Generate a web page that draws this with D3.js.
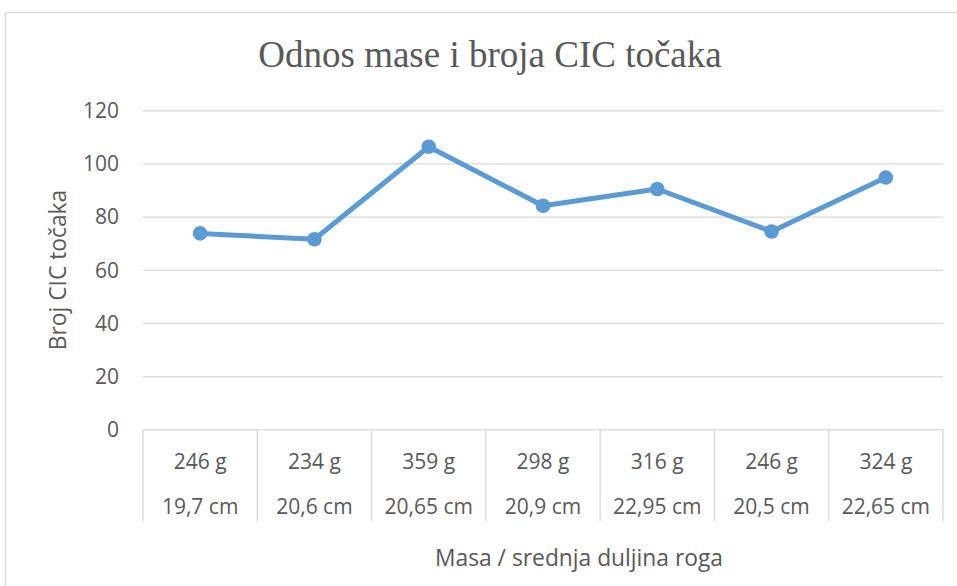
<!DOCTYPE html>
<html>
<head>
<meta charset="utf-8">
<script src="https://cdn.jsdelivr.net/npm/d3@7"></script>
<style>
  html, body { margin: 0; padding: 0; background: #fff; }
  svg { display: block; }
  text { font-family: "Open Sans", sans-serif; fill: #595959; }
</style>
</head>
<body>
<svg id="chart" width="957" height="586"></svg>
<script>
const massLabels = ["246 g", "234 g", "359 g", "298 g", "316 g", "246 g", "324 g"];
const lengthLabels = ["19,7 cm", "20,6 cm", "20,65 cm", "20,9 cm", "22,95 cm", "20,5 cm", "22,65 cm"];
const cicValues = [73.7, 71.5, 106.3, 84.1, 90.4, 74.4, 94.7];
const yTicks = [0, 20, 40, 60, 80, 100, 120];
const titleText = "Odnos mase i broja CIC točaka";
const xTitle = "Masa / srednja duljina roga";
const yTitle = "Broj CIC točaka";

const svg = d3.select("#chart");
const plot = { left: 143, right: 943, top: 110.3, bottom: 429.3 };
const idx = d3.range(massLabels.length);

const x = d3.scaleBand().domain(idx).range([plot.left, plot.right]).paddingInner(0).paddingOuter(0);
const y = d3.scaleLinear().domain([0, 120]).range([plot.bottom, plot.top]);

// chart border
svg.append("rect").attr("x", 5.5).attr("y", 12.5).attr("width", 1000).attr("height", 1000)
  .attr("fill", "none").attr("stroke", "#d9d9d9").attr("stroke-width", 1.3);

// title
svg.append("text").attr("x", 490).attr("y", 67).attr("text-anchor", "middle")
  .style("font-family", "'Liberation Serif', 'Times New Roman', serif")
  .style("font-size", "37px").text(titleText);

// gridlines + y axis labels
const yAxis = d3.axisLeft(y).tickValues(yTicks).tickSize(-(plot.right - plot.left)).tickPadding(24);
const gy = svg.append("g").attr("transform", `translate(${plot.left},0)`).call(yAxis);
gy.select(".domain").remove();
gy.selectAll(".tick line").attr("stroke", "#d9d9d9").attr("stroke-width", 1.3);
gy.selectAll(".tick text").style("font-size", "21px").style("font-family", "'Open Sans', sans-serif")
  .attr("fill", "#595959").attr("x", 119 - plot.left).attr("dy", "0.35em");

// x axis table: vertical separators
const bounds = idx.map(i => x(i)).concat([x(idx[idx.length - 1]) + x.bandwidth()]);
svg.append("g").selectAll("line").data(bounds).join("line")
  .attr("x1", d => d).attr("x2", d => d).attr("y1", plot.bottom).attr("y2", 521)
  .attr("stroke", "#d9d9d9").attr("stroke-width", 1.3);

// category labels
const gx = svg.append("g");
gx.selectAll("text.mass").data(idx).join("text").attr("class", "mass")
  .attr("x", i => x(i) + x.bandwidth() / 2).attr("y", 469).attr("text-anchor", "middle")
  .style("font-size", "21px").text(i => massLabels[i]);
gx.selectAll("text.len").data(idx).join("text").attr("class", "len")
  .attr("x", i => x(i) + x.bandwidth() / 2).attr("y", 514).attr("text-anchor", "middle")
  .style("font-size", "21px").text(i => lengthLabels[i]);

// axis titles
svg.append("text").attr("x", 579).attr("y", 566).attr("text-anchor", "middle")
  .style("font-size", "22.8px").text(xTitle);
svg.append("text").attr("transform", "translate(66,270) rotate(-90)").attr("text-anchor", "middle")
  .style("font-size", "22.8px").text(yTitle);

// line
const line = d3.line().x(i => x(i) + x.bandwidth() / 2).y(i => y(cicValues[i]));
svg.append("path").datum(idx).attr("d", line).attr("fill", "none")
  .attr("stroke", "#5b9bd5").attr("stroke-width", 5).attr("stroke-linejoin", "round").attr("stroke-linecap", "round");
svg.append("g").selectAll("circle").data(idx).join("circle")
  .attr("cx", i => x(i) + x.bandwidth() / 2).attr("cy", i => y(cicValues[i])).attr("r", 7.3)
  .attr("fill", "#5b9bd5");
</script>
</body>
</html>
